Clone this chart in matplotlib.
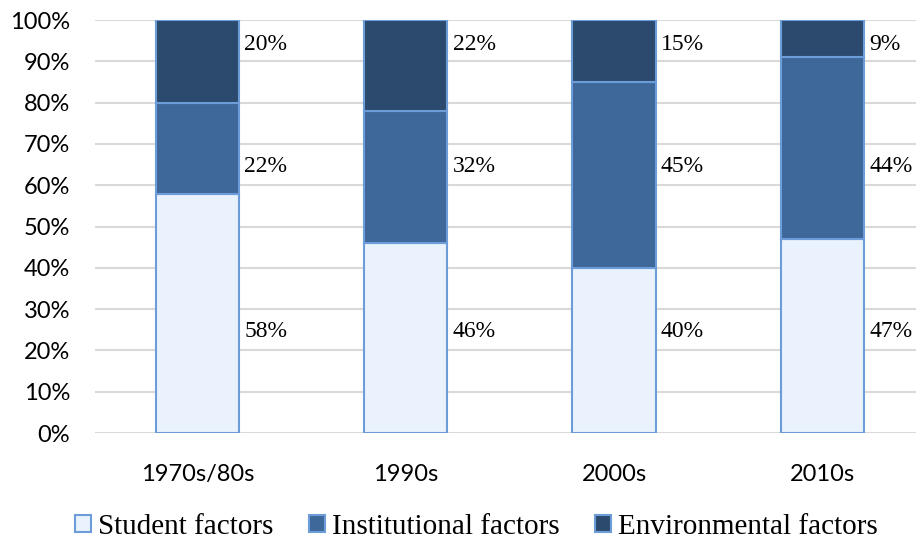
import numpy as np
import matplotlib.pyplot as plt
from matplotlib.ticker import PercentFormatter

decades = ["1970s/80s", "1990s", "2000s", "2010s"]
student = [58, 46, 40, 47]
institutional = [22, 32, 45, 44]
environmental = [20, 22, 15, 9]

series = [
    ("Student factors", student, "#e9f2fd"),
    ("Institutional factors", institutional, "#3d6899"),
    ("Environmental factors", environmental, "#2c4a6e"),
]
# the labels sit at fixed heights in the original
label_y = [24.5, 64.5, 94.0]

fig = plt.figure(figsize=(9.16, 5.42), dpi=100)
ax = fig.add_axes([0.104, 0.201, 0.896, 0.762])

x = np.arange(len(decades))
w = 0.4
bottom = np.zeros(len(decades))
for (name, vals, col), ly in zip(series, label_y):
    ax.bar(x, vals, w, bottom=bottom, color=col, edgecolor="#6c9dd8",
           linewidth=1.5, label=name, zorder=3)
    for xi, v in zip(x, vals):
        ax.text(xi + w / 2 + 0.025, ly, f"{v}%", fontsize=17,
                family="Liberation Serif", va="center", ha="left", zorder=4)
    bottom += vals

ax.set_ylim(0, 100)
ax.set_xlim(-0.49, 3.45)
ax.set_yticks(range(0, 101, 10))
ax.yaxis.set_major_formatter(PercentFormatter(decimals=0))
ax.set_xticks(x)
ax.set_xticklabels(decades)
ax.grid(axis="y", color="#d9d9d9", linewidth=1.5, zorder=0)
for s in ax.spines.values():
    s.set_visible(False)
ax.tick_params(length=0, labelsize=17)
ax.tick_params(axis="y", pad=18)
ax.tick_params(axis="x", pad=22)
for t in ax.get_xticklabels() + ax.get_yticklabels():
    t.set_family("Lato")

fig.legend(loc="center", bbox_to_anchor=(0.52, 0.028), ncol=3, frameon=False,
           prop={"family": "Liberation Serif", "size": 21}, handlelength=0.55,
           handleheight=0.55, handletextpad=0.25, columnspacing=1.2,
           borderpad=0)

fig.savefig("out.png", dpi=100)
